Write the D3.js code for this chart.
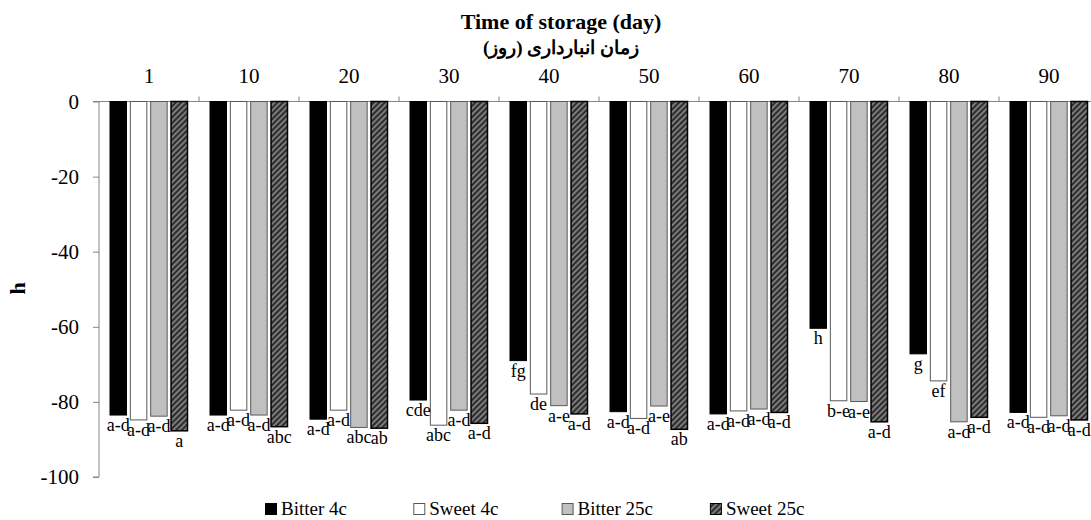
<!DOCTYPE html>
<html>
<head>
<meta charset="utf-8">
<script src="https://cdn.jsdelivr.net/npm/d3@7"></script>
<style>
  body { margin: 0; background: #fff; }
  svg text { font-family: 'Times New Roman', 'Liberation Serif', 'DejaVu Serif', serif !important; fill: #000; }
</style>
</head>
<body>
<div id="graph1"></div>
<script>
// storage days and the four treatments
const days = ["1", "10", "20", "30", "40", "50", "60", "70", "80", "90"];
const series = ["Bitter 4c", "Sweet 4c", "Bitter 25c", "Sweet 25c"];

// hue angle h
const bitter4 = [-83.5, -83.5, -84.6, -79.5, -69.0, -82.6, -83.2, -60.4, -67.2, -82.8];
const sweet4 = [-84.8, -82.2, -82.2, -86.2, -77.9, -84.4, -82.4, -79.7, -74.4, -84.1];
const bitter25 = [-83.8, -83.5, -86.8, -82.2, -81.0, -81.1, -81.9, -79.9, -85.3, -83.7];
const sweet25 = [-87.7, -86.6, -87.0, -85.7, -83.2, -87.3, -82.8, -85.3, -84.1, -84.8];

// mean separation letters
const bitter4Letters = ["a-d", "a-d", "a-d", "cde", "fg", "a-d", "a-d", "h", "g", "a-d"];
const sweet4Letters = ["a-d", "a-d", "a-d", "abc", "de", "a-d", "a-d", "b-e", "ef", "a-d"];
const bitter25Letters = ["a-d", "a-d", "abc", "a-d", "a-e", "a-e", "a-d", "a-e", "a-d", "a-d"];
const sweet25Letters = ["a", "abc", "ab", "a-d", "a-d", "ab", "a-d", "a-d", "a-d", "a-d"];

const yTicks = [0, -20, -40, -60, -80, -100];

const values = [bitter4, sweet4, bitter25, sweet25];
const letters = [bitter4Letters, sweet4Letters, bitter25Letters, sweet25Letters];

const width = 1091, height = 520;
const margin = {top: 101.5, left: 99, bottom: 43};
const graph_width = 1000;
const graph_height = height - margin.top - margin.bottom;
const serif = "'Times New Roman', 'Liberation Serif', 'DejaVu Serif', serif";

let svg = d3.select("#graph1")
    .append("svg")
    .attr("width", width)
    .attr("height", height)
    .attr("font-family", serif)
    .append("g")
    .attr("transform", `translate(${margin.left},${margin.top})`);

// hatched fill for Sweet 25c
let defs = svg.append("defs");
let pat = defs.append("pattern")
    .attr("id", "hatch")
    .attr("patternUnits", "userSpaceOnUse")
    .attr("width", 4)
    .attr("height", 4)
    .attr("patternTransform", "rotate(45)");
pat.append("rect").attr("width", 4).attr("height", 4).attr("fill", "#2e2e2e");
pat.append("rect").attr("x", 0).attr("width", 1.6).attr("height", 4).attr("fill", "#8c8c8c");

const fills = ["#000000", "#ffffff", "#c0c0c0", "url(#hatch)"];
const strokes = ["#000000", "#595959", "#595959", "#000000"];

let x0 = d3.scaleBand()
    .domain(days)
    .range([0, graph_width]);

let x1 = d3.scaleBand()
    .domain(series)
    .range([11, 88.5])
    .paddingInner(0.19);

let y = d3.scaleLinear()
    .domain([-100, 0])
    .range([graph_height, 0]);

// y axis
let yAxis = svg.append("g")
    .call(d3.axisLeft(y).tickValues(yTicks).tickSize(6).tickPadding(14).tickFormat(d => String(d)));
yAxis.attr("font-family", serif);
yAxis.select(".domain").attr("stroke", "#868686").attr("d", `M-6,${graph_height}H0V0H-6`);
yAxis.selectAll(".tick line").attr("stroke", "#868686");
yAxis.selectAll(".tick text").style("font-size", "21px");

// category axis along the zero line, labels above
let xAxis = svg.append("g")
    .call(d3.axisTop(x0).tickSize(0).tickPadding(18.5));
xAxis.attr("font-family", serif);
xAxis.select(".domain").attr("stroke", "#868686").attr("d", `M0,0H${graph_width}`);
xAxis.selectAll(".tick text").style("font-size", "21px");
svg.append("g").selectAll("line")
    .data(days.slice(1))
    .enter()
    .append("line")
    .attr("x1", d => x0(d))
    .attr("x2", d => x0(d))
    .attr("y1", 0)
    .attr("y2", -5)
    .attr("stroke", "#868686");

// bars
let table = [];
days.forEach(function(day, i) {
    series.forEach(function(s, j) {
        table.push({day: day, s: j, value: values[j][i], letter: letters[j][i]});
    });
});

svg.append("g").selectAll("rect")
    .data(table)
    .enter()
    .append("rect")
    .attr("x", d => x0(d.day) + x1(series[d.s]))
    .attr("y", y(0))
    .attr("width", x1.bandwidth())
    .attr("height", d => y(d.value) - y(0))
    .attr("fill", d => fills[d.s])
    .attr("stroke", d => strokes[d.s])
    .attr("stroke-width", d => d.s == 3 ? 1.5 : 1);

svg.append("g").selectAll("text")
    .data(table)
    .enter()
    .append("text")
    .attr("x", d => x0(d.day) + x1(series[d.s]) + x1.bandwidth() / 2)
    .attr("y", d => y(d.value) + 16)
    .style("text-anchor", "middle")
    .style("font-size", "18px")
    .text(d => d.letter);

// titles
svg.append("text")
    .attr("transform", `translate(${462},${28.5 - margin.top})`)
    .style("text-anchor", "middle")
    .style("font-size", "22px")
    .style("font-weight", "bold")
    .text("Time of storage (day)");
svg.append("text")
    .attr("transform", `translate(${462},${54 - margin.top})`)
    .style("text-anchor", "middle")
    .style("font-size", "19px")
    .style("font-weight", "bold")
    .attr("direction", "rtl")
    .text("زمان انبارداری (روز)");

svg.append("text")
    .attr("transform", `translate(${-74},${y(-50) - 1}) rotate(-90)`)
    .style("text-anchor", "middle")
    .style("font-size", "22px")
    .style("font-weight", "bold")
    .text("h");

// legend
let legend = svg.append("g")
    .attr("transform", `translate(${166},${graph_height + 38})`);
let items = legend.selectAll("g")
    .data(series)
    .enter()
    .append("g")
    .attr("transform", (d, i) => `translate(${i * 148.3},0)`);
items.append("rect")
    .attr("x", 0.5)
    .attr("y", -11.5)
    .attr("width", 11)
    .attr("height", 11)
    .attr("fill", (d, i) => fills[i])
    .attr("stroke", (d, i) => strokes[i]);
items.append("text")
    .attr("x", 16)
    .attr("y", 0)
    .style("font-size", "19px")
    .text(d => d);
</script>
</body>
</html>
